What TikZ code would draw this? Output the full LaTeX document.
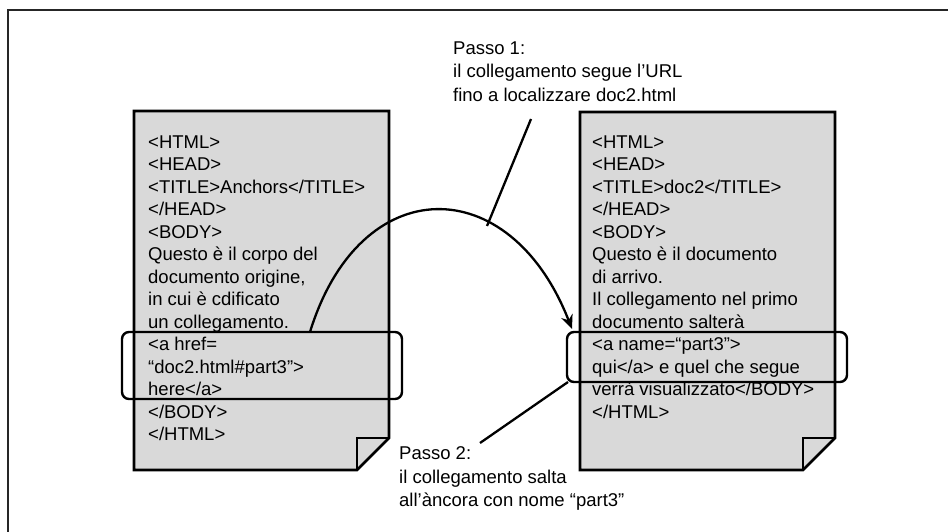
\documentclass[tikz,border=0pt]{standalone}
\usepackage{fontspec}
\setmainfont{Liberation Sans}
\usepackage{xcolor}
\usetikzlibrary{arrows.meta}

\definecolor{docgray}{HTML}{D9D9D9}

\begin{document}
\begin{tikzpicture}[x=1pt,y=-1pt,
    page/.style={draw, line width=2.8pt, fill=docgray, line join=miter},
    fold/.style={draw, line width=1.4pt},
    code/.style={anchor=north west, inner sep=0pt, align=left, font=\fontsize{18.5}{22.5}\selectfont},
    note/.style={anchor=north west, inner sep=0pt, align=left, font=\fontsize{18.5}{23.5}\selectfont},
    hl/.style={draw, line width=2.4pt, rounded corners=7pt, inner sep=0pt},
    link/.style={line width=2.3pt}]
    \useasboundingbox (0,0) rectangle (948,532);
    % frame
    \draw[line width=2pt, draw=black!85] (948,10) -- (8,10) -- (8,532);

    % source page
    \draw[page] (134,111) -- (389,111) -- (389,438) -- (357,470) -- (134,470) -- cycle;
    \draw[fold] (357,470) -- (357,438) -- (389,438);
    \node[code] (srctext) at (148,135.4) {<HTML>\\<HEAD>\\<TITLE>Anchors</TITLE>\\</HEAD>\\<BODY>\\
        Questo è il corpo del\\documento origine,\\in cui è cdificato\\un collegamento.\\
        <a href=\\“doc2.html\#part3”>\\here</a>\\</BODY>\\</HTML>};

    % target page
    \draw[page] (580,112) -- (835,112) -- (835,438) -- (803,470) -- (580,470) -- cycle;
    \draw[fold] (803,470) -- (803,438) -- (835,438);
    \node[code] (dsttext) at (592,135.4) {<HTML>\\<HEAD>\\<TITLE>doc2</TITLE>\\</HEAD>\\<BODY>\\
        Questo è il documento\\di arrivo.\\Il collegamento nel primo\\documento salterà\\
        <a name=“part3”>\\qui</a> e quel che segue\\verrà visualizzato</BODY>\\</HTML>};

    % highlighted anchors
    \node[hl, minimum width=280pt, minimum height=67pt] (srclink) at (262,365.5) {};
    \node[hl, minimum width=280pt, minimum height=50pt] (dstlink) at (707,357) {};

    % notes
    \node[note] (step1) at (453,41.5) {Passo 1:\\il collegamento segue l’URL\\fino a localizzare doc2.html};
    \node[note] (step2) at (399,446.5) {Passo 2:\\il collegamento salta\\all’àncora con nome “part3”};

    \coordinate (jumpstart) at (310,332);
    \coordinate (jumpend) at (572,329);
    \coordinate (onarc) at (487,226);
    \coordinate (step1end) at (531,119);
    \coordinate (step2end) at (480,443);
    \coordinate (dstcorner) at (568,382);

    \draw[link, -{Stealth[length=14pt,width=12pt]}] (jumpstart) .. controls (360,170) and (510,170) .. (jumpend);
    \draw[link] (step1end) -- (onarc);
    \draw[link] (step2end) -- (dstcorner);
\end{tikzpicture}
\end{document}
